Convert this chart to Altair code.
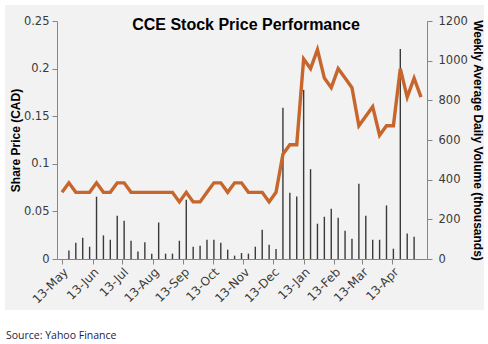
import altair as alt
import pandas as pd

title_text = "CCE Stock Price Performance"
source_text = "Source: Yahoo Finance"
first_week = "2013-05-13"

# weekly closing share price (CAD)
price = [0.07, 0.08, 0.07, 0.07, 0.07, 0.08, 0.07, 0.07, 0.08, 0.08,
         0.07, 0.07, 0.07, 0.07, 0.07, 0.07, 0.07, 0.06, 0.07, 0.06,
         0.06, 0.07, 0.08, 0.08, 0.07, 0.08, 0.08, 0.07, 0.07, 0.07,
         0.06, 0.07, 0.11, 0.12, 0.12, 0.21, 0.20, 0.22, 0.19, 0.18,
         0.20, 0.19, 0.18, 0.14, 0.15, 0.16, 0.13, 0.14, 0.14, 0.20,
         0.17, 0.19, 0.17]

# weekly average daily volume (thousands)
volume = [None, 43, 82, 107, 62, 314, 119, 97, 218, 193,
          92, 38, 84, 27, 184, 27, 27, 92, 299, 62,
          67, 97, 97, 82, 47, 17, 30, 27, 62, 148,
          72, 50, 762, 334, 315, 853, 453, 178, 213, 253,
          208, 143, 102, 379, 218, 97, 97, 270, 52, 1059,
          129, 112, None]

tick_months = [(2013, 5), (2013, 6), (2013, 7), (2013, 8), (2013, 9), (2013, 10),
               (2013, 11), (2013, 12), (2014, 1), (2014, 2), (2014, 3), (2014, 4)]
x_domain = [(2013, 5, 13), (2014, 5, 13)]

dates = pd.date_range(first_week, periods=len(price), freq="7D").strftime("%Y-%m-%dT00:00:00")
df = pd.DataFrame({"date": list(dates), "price": price, "volume": volume})

W, H = 370, 238
AX = "#868686"
LAB = "#3a3a3a"
LFONT = "DejaVu Sans"
TFONT = "Liberation Sans"

x_enc = alt.X(
    "date:T",
    scale=alt.Scale(domain=[alt.DateTime(year=y, month=m, date=d) for y, m, d in x_domain]),
    axis=alt.Axis(
        values=[alt.DateTime(year=y, month=m, date=13) for y, m in tick_months],
        format="%d-%b", labelAngle=-45, labelAlign="right", labelBaseline="top",
        labelOverlap=False, title=None, grid=False, tickSize=5, labelPadding=2,
        domainColor=AX, tickColor=AX, labelColor=LAB, labelFont=LFONT, labelFontSize=12,
        zindex=1,
    ),
)

one = alt.Data(values=[{"k": 0}])

# light grey panel behind the chart (drawn as a very thick rule)
panel = alt.Chart(one).mark_rule(color="#f2f2f2", strokeWidth=305, strokeCap="butt").encode(
    x=alt.value(-52), x2=alt.value(W + 57), y=alt.value(136.5)
)

title = alt.Chart(one).mark_text(
    align="center", baseline="alphabetic", font=TFONT, fontSize=16, fontWeight="bold",
    color="black"
).encode(x=alt.value(W / 2 + 4), y=alt.value(9), text=alt.value(title_text))

source = alt.Chart(one).mark_text(
    align="left", baseline="alphabetic", font="Open Sans", fontSize=10.5, color="#1c1c48"
).encode(x=alt.value(-51), y=alt.value(H + 80), text=alt.value(source_text))

bars = alt.Chart(df).mark_bar(size=1.4, color="#3a3a3a").encode(
    x=x_enc,
    y=alt.Y(
        "volume:Q",
        scale=alt.Scale(domain=[0, 1200]),
        axis=alt.Axis(
            orient="right", values=list(range(0, 1201, 200)), format="d", grid=False,
            title="Weekly Average Daily Volume (thousands)", titleFont=TFONT, titleFontSize=12,
            titleFontWeight="bold", titleColor="black", titleAngle=90, titleBaseline="middle",
            titleX=50, tickSize=5, labelPadding=6, domainColor=AX, tickColor=AX,
            labelColor=LAB, labelFont=LFONT, labelFontSize=11.5, zindex=1,
        ),
    ),
)

line = alt.Chart(df).mark_line(color="#c6662c", strokeWidth=3.4).encode(
    x=x_enc,
    y=alt.Y(
        "price:Q",
        scale=alt.Scale(domain=[0, 0.25]),
        axis=alt.Axis(
            orient="left", values=[0, 0.05, 0.1, 0.15, 0.2, 0.25], format="~g", grid=False,
            title="Share Price (CAD)", titleFont=TFONT, titleFontSize=12,
            titleFontWeight="bold", titleColor="black", titleAngle=-90, titleBaseline="middle",
            titleX=-42, tickSize=5, labelPadding=3, domainColor=AX, tickColor=AX,
            labelColor=LAB, labelFont=LFONT, labelFontSize=11.5, zindex=1,
        ),
    ),
)

chart = alt.layer(panel, bars, line, title, source).resolve_scale(y="independent").properties(
    width=W, height=H,
    autosize=alt.AutoSizeParams(type="none"),
    padding={"left": 57, "top": 21, "right": 61, "bottom": 85},
).configure_view(stroke=None).configure(background="white")

chart.save("out.html", embed_options={"renderer": "svg", "actions": False})
